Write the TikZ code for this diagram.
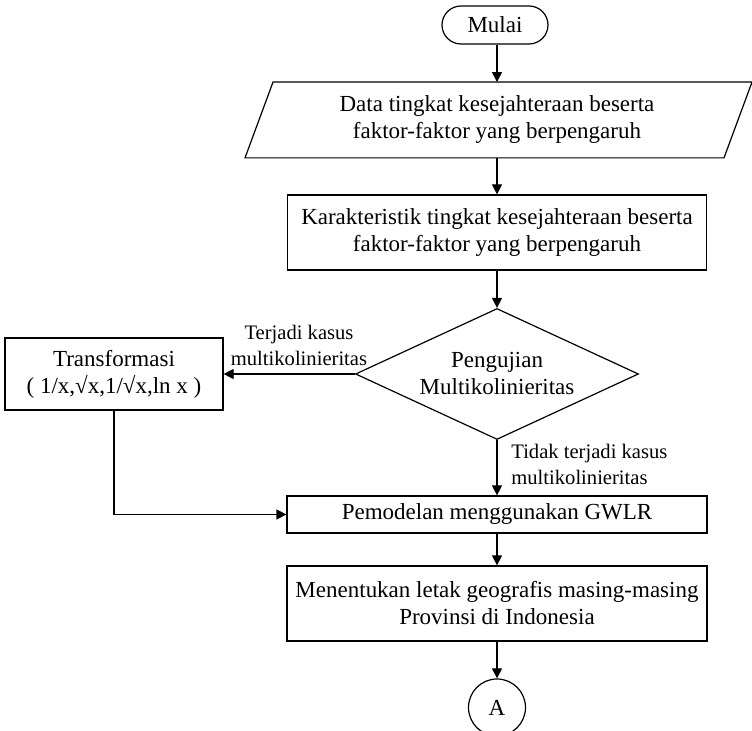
\documentclass[tikz,border=0pt]{standalone}
\usepackage{fontspec}
\setmainfont{Liberation Serif}
\usetikzlibrary{shapes.geometric,arrows.meta}
\begin{document}
\begin{tikzpicture}[x=0.5pt,y=-0.5pt,
  every node/.style={font=\fontsize{11.5}{13.5}\selectfont, align=center, inner sep=0pt},
  box/.style={draw, line width=0.6pt, minimum width=#1},
  lbl/.style={font=\fontsize{10.3}{13}\selectfont},
  conn/.style={line width=0.6pt, -{Triangle[length=5pt,width=5pt]}},
  plain/.style={line width=0.6pt}]
\path[use as bounding box] (0,0) rectangle (752,731);

\node[draw, line width=0.6pt, rounded corners=9.5pt, minimum width=53pt, minimum height=19pt] (mulai) at (495,25) {Mulai};

\node[minimum width=225pt, minimum height=37.5pt] (data) at (497,120) {Data tingkat kesejahteraan beserta\\faktor-faktor yang berpengaruh};
\draw[plain] ([xshift=-112pt]data.north) -- ([xshift=127.5pt]data.north) -- ([xshift=113.5pt]data.south) -- ([xshift=-126pt]data.south) -- cycle;

\node[box=209.5pt, minimum height=37.5pt] (kar) at (497,232.5) {Karakteristik tingkat kesejahteraan beserta\\faktor-faktor yang berpengaruh};

\node[draw, line width=0.6pt, shape=diamond, shape aspect=2.16, minimum width=141.5pt, minimum height=65.5pt] (dia) at (497,374) {Pengujian\\Multikolinieritas};

\node[box=109pt, minimum height=36pt] (trans) at (114,374) {Transformasi\\( 1/x,√x,1/√x,ln x )};

\node[box=210pt, minimum height=18.5pt] (gwlr) at (497,514.5) {Pemodelan menggunakan GWLR};

\node[box=210pt, minimum height=37.5pt] (men) at (497,603.5) {Menentukan letak geografis masing-masing\\Provinsi di Indonesia};

\node[draw, line width=0.6pt, circle, minimum size=28.5pt] (A) at (497,707.5) {A};

\node[lbl] (l1) at (299,345) {Terjadi kasus\\multikolinieritas};
\node[lbl, align=left, anchor=west] (l2) at (511,464) {Tidak terjadi kasus\\multikolinieritas};

\draw[conn] (mulai.south -| data.north) -- (data.north);
\draw[conn] (data.south) -- (kar.north);
\draw[conn] (kar.south) -- (dia.north);
\draw[conn] (dia.west) -- (trans.east);
\draw[conn] (dia.south) -- (gwlr.north);
\draw[conn] (trans.south) |- (gwlr.west);
\draw[conn] (gwlr.south) -- (men.north);
\draw[conn] (men.south) -- (A.north);
\end{tikzpicture}
\end{document}
